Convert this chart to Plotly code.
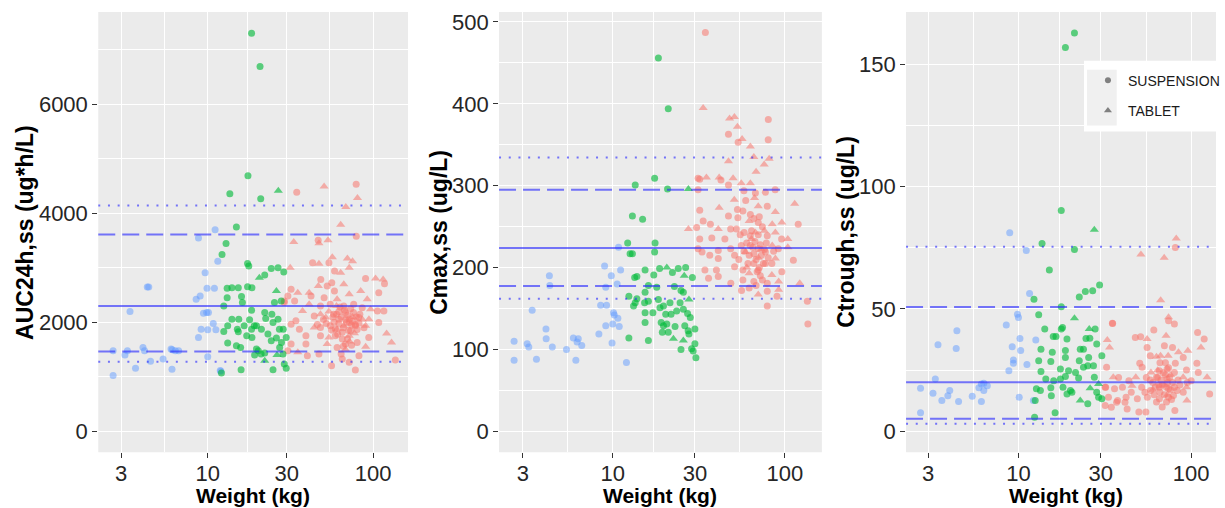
import plotly.graph_objects as go

# ---------------- data (weight kg, value) ----------------
# Panel 1: AUC24h,ss
AUC_BLUE = [(2.68,1479),(2.68,1023),(3.16,1400),(3.27,1479),(3.39,2198),(3.66,1157),(4.06,1540),(4.31,2648),(4.4,2648),(4.15,1479),
            (4.51,1285),(5.37,1327),(6.0,1510),(6.1,1498),(6.08,1138),(6.37,1479),(6.67,1479),(8.51,2423),(8.79,3549),(9.0,2484),
            (8.79,1723),(9.12,1875),(9.42,2167),(9.64,2910),(9.85,2180),(10.1,2180),(10.0,1370),(10.0,1863),(9.9,2624),(10.97,2624),
            (10.8,1979),(11.2,1863),(11.08,3701),(11.5,3123),(11.9,1114),(12.0,1102)]
AUC_GREEN_SUSP = [(18.4,7306),(20.7,6697),(17.5,4688),(13.6,4359),(20.9,4268),(14.9,3750),(12.9,3446),(12.2,3245),(17.4,3080),(17.7,3032),
                  (22.1,2867),(24.2,2989),(26.6,3001),(28.8,2922),(13.1,2624),(14.0,2636),(15.3,2636),(17.4,2654),(18.5,2636),(13.1,2453),
                  (16.0,2472),(16.2,2362),(18.4,2222),(25.3,2362),(27.8,2393),(12.5,2301),(14.0,2058),(15.4,2058),(17.9,2046),(22.1,2180),
                  (24.4,2149),(24.8,1997),(19.7,1936),(13.2,1936),(15.1,1875),(16.6,1936),(18.4,1875),(19.1,1936),(21.1,1875),(23.1,1784),
                  (27.1,1875),(28.6,1875),(29.8,1723),(12.5,1833),(15.3,1826),(17.2,1753),(18.5,1723),(24.2,1662),(13.2,1619),(14.9,1571),
                  (15.8,1540),(19.7,1510),(20.2,1479),(19.2,1400),(21.0,1418),(27.2,1540),(27.9,1632),(28.5,1418),(15.9,1132),(24.8,1132),
                  (29.0,1236),(29.8,1157),(12.1,1071),(22.1,1437),(26.0,1711),(26.6,2058),(22.4,2070)]
AUC_GREEN_TAB = [(26.7,4414),(20.5,2819),(26.0,2575),(26.2,1400),(22.1,1297)]
AUC_RED_SUSP = [(34.5,4389),(78.9,4535),(79,3580),(46.5,3507),(43.0,3093),(54,3093),(31.9,2606),(58.4,2940),(48.2,2788),(56.2,2727),
                (89.9,2806),(117,2709),(52.7,2666),(58.3,2575),(42.1,2484),(29,2393),(33.5,2393),(50.5,2453),(108,2545),(29,2362),
                (30.5,2484),(48,2301),(55,2331),(66.4,2301),(76.2,2331),(85.8,2270),(106,2210),(116,2210),(34.1,2027),(44,2118),
                (57.7,2149),(62,2058),(68,2180),(71.6,1997),(81.8,2088),(108,1997),(31.9,1966),(35.8,1875),(48,1905),(55,1936),
                (73,1845),(78,1936),(39.2,1753),(48,1753),(59,1753),(65,1692),(80,1632),(94,1723),(31.9,1601),(39.2,1601),
                (60.5,1540),(68,1601),(40,1388),(47,1418),(56,1205),(65,1327),(71.6,1266),(78,1126),(82,1388),(136,1309),
                (30.5,1479),(60,2150),(62,1980),(64,2100),(66,1900),(67,2220),(69,2000),(70,2130),(71,1850),(72,2060),
                (74,1950),(75,2020),(76,2180),(78,1960),(63,2280),(65,1820),(58,2000),(59,1880),(61,1780),(57,2100),
                (70,1700),(74,1580),(66,1560),(64,1420),(56,1860),(52,1980),(50,2050),(46,1960),(83,2150),(88,1900),
                (80,1870),(82,1990),(79,2100),(68,2050),(73,2250),(62,2200)]
AUC_RED_TAB = [(50.5,4493),(80.3,4280),(68.3,4115),(63.6,3793),(33.1,3476),(47,3450),(53.3,3507),(47,3074),(56.6,3196),(69.8,3172),
               (75,3123),(71.6,3001),(31.5,3001),(63.6,2910),(66.4,2697),(103.3,2806),(114.8,2788),(46.6,2666),(35,2545),(41,2545),
               (60.5,2423),(71.6,2514),(84,2575),(92,2423),(41,2331),(96.4,2240),(37.4,2210),(51.7,2088),(94.2,2058),(44,1905),
               (60.5,1875),(66.4,1936),(90,1936),(54,1723),(71.6,1753),(120.5,1796),(129,1632),(52.7,1601),(90,1552),(35,1449),
               (77,1800),(54,2200),(48,2150),(86,2050),(72,1650),(68,1500),(60,2300),(75,2100)]
AUC_REF = [4146, 3611, 2301, 1467, 1279]   # dotted, dashed, solid, dashed, dotted
AUC_TICKS = [0, 2000, 4000, 6000]
AUC_MINOR = [1000, 3000, 5000, 7000]

# Panel 2: Cmax,ss
CMAX_BLUE = [(2.67,110),(2.67,87),(3.18,107),(3.25,103),(3.4,148),(3.6,88),(4.09,125),(4.1,113),(4.28,190),(4.3,178),
             (4.45,103),(5.38,100),(5.9,114),(6.1,87),(6.2,109),(6.3,113),(6.6,105),(8.3,119),(8.5,154),(8.96,202),
             (9.1,176),(9.2,154),(9.1,129),(9.8,190),(10.0,131),(9.9,108),(10.1,145),(10.2,142),(10.6,180),(10.7,138),
             (10.9,128),(11.1,197),(10.8,225),(12.0,84)]
CMAX_GREEN_SUSP = [(18.4,456),(21.0,394),(17.5,309),(13.5,301),(20.8,296),(13.0,263),(14.9,259),(12.2,230),(17.6,230),(12.6,217),
                   (13.0,217),(17.5,219),(13.4,188),(13.8,189),(15.4,197),(17.3,191),(18.7,199),(22.2,194),(24.0,199),(26.5,200),
                   (29.0,188),(12.4,165),(13.8,162),(15.4,170),(16.1,178),(18.0,176),(22.8,177),(24.9,172),(25.7,170),(13.2,153),
                   (13.5,157),(15.3,157),(16.1,159),(18.4,161),(19.7,153),(21.5,157),(24.6,157),(15.4,145),(17.1,145),(18.8,151),
                   (20.3,143),(21.8,143),(23.5,147),(25.7,149),(27.2,144),(28.2,139),(15.4,133),(19.1,133),(19.7,129),(20.6,131),
                   (23.0,128),(26.2,129),(27.4,123),(30,125),(19.4,121),(21,121),(12.4,114),(16.1,111),(27.7,119),(30,107),
                   (24.9,100),(28.7,101),(30.4,90),(29.3,98)]
CMAX_GREEN_TAB = [(27.5,296),(20.6,200),(26.0,190),(27.7,161),(22.5,113),(25.7,111)]
CMAX_RED_SUSP = [(34.5,487),(80.1,381),(47,363),(53.5,353),(80,356),(31.3,309),(32,308),(42.5,307),(47,301),(31.3,295),
                 (57.8,294),(67.4,291),(77,292),(87.8,295),(59.2,282),(32,270),(53,271),(57,269),(79,275),(33.5,257),
                 (36.9,253),(47,263),(53.3,261),(70,255),(119.5,253),(30.7,249),(37.6,236),(44.8,235),(48.4,247),(52.3,247),
                 (58,243),(63,239),(79,239),(95.7,235),(32,235),(31.3,223),(41,221),(48.4,223),(55.8,227),(63,227),
                 (70,223),(91.6,223),(33,219),(36.6,215),(41,211),(51,215),(66,217),(77,219),(112,209),(34.3,197),
                 (40,197),(51,201),(57,197),(70,197),(96,195),(36,187),(41,189),(57,185),(66,183),(79,181),
                 (48.5,181),(62,175),(56,172),(79,171),(135,159),(79,153),(136,131),(90,165),
                 (60,230),(62,215),(64,245),(66,205),(67,232),(68,210),(70,240),(71,200),(72,228),(73,215),
                 (74,250),(75,205),(76,222),(65,225),(69,195),(61,205),(58,220),(72,190),(74,185),(66,260),
                 (63,265),(78,230),(80,212),(84,205),(86,220),(55,240),(54,210),(68,178),(71,262),(77,205)]
CMAX_RED_TAB = [(33.5,395),(47.7,382),(50.9,384),(53,372),(56.4,357),(63,348),(66,335),(81,333),(75.8,326),(47,330),
                (68,317),(35,310),(41.5,310),(50,309),(55.8,303),(63,303),(66.6,285),(50.8,283),(41.5,273),(70,275),
                (88,268),(114,278),(62,257),(84.4,253),(96,255),(27.5,247),(41,247),(67.4,243),(88,243),(104,235),
                (84.4,227),(104,225),(59,219),(88,211),(62,193),(84,191),(92,183),(122,181),(92,173),(70,167),
                (64,235),(70,212),(76,245),(60,200),(73,222)]
CMAX_REF = [334.5, 295, 224, 177.6, 162]
CMAX_TICKS = [0, 100, 200, 300, 400, 500]
CMAX_MINOR = [50, 150, 250, 350, 450]

# Panel 3: Ctrough,ss
CTR_BLUE = [(2.71,17.6),(2.71,7.6),(3.2,15.6),(3.3,21.4),(3.42,35.4),(3.6,12.6),(3.9,14.6),(4.0,16.7),(4.36,33.9),(4.4,41.1),
            (4.5,12.2),(5.4,14.4),(5.9,17.8),(6.1,19.4),(6.1,12.2),(6.3,16.7),(6.6,18.7),(6.3,19.7),(8.5,43.5),(8.9,81.1),
            (9.2,34.6),(9.35,29.2),(9.35,27.8),(8.8,24.8),(9.87,47.9),(10.0,46.5),(10.1,14.0),(10.2,38.0),(10.3,33.0),(11.1,73.9),
            (11.2,27.3),(11.6,56.3),(12.2,12.6),(12.6,37.3)]
CTR_GREEN_SUSP = [(21.1,162.7),(18.7,156.8),(17.7,90.2),(13.7,76.7),(21.1,74.3),(15.1,65.9),(29.5,59.8),(26.9,57.4),(24.4,57.1),(22.5,54.9),
                  (12.3,54.0),(17.7,50.9),(13.1,47.6),(14.2,41.8),(17.7,41.8),(18.0,42.4),(15.9,38.8),(16.5,38.8),(19.1,37.7),(27.8,41.8),
                  (24.6,38),(25.9,38.1),(28.4,35.7),(13.5,33.6),(15.7,32.3),(18.7,33.0),(22.8,33.6),(23.8,33.6),(13.1,28.9),(15.4,28.6),
                  (18.7,30.2),(22.5,28.9),(25.5,30.2),(30.4,30.9),(13.5,24.5),(17.5,25.5),(19.5,24.8),(21.4,24.1),(23.8,26.2),(25.2,26.8),
                  (27.2,26.8),(14.4,21.4),(16.0,20.7),(18.7,22.4),(22.3,21.8),(27.5,22.1),(12.7,17.4),(15.4,17.8),(18.1,18.0),(20.0,16.7),
                  (12.5,12.6),(13.4,16.7),(15.5,14.6),(19.1,15.3),(25.2,11.3),(28.4,16.0),(29.1,14.0),(16.3,7.6),(12.4,5.8),(30.4,13.3),
                  (20.4,16.0),(17.5,21.4)]
CTR_GREEN_TAB = [(27.5,82.4),(21.1,46.2),(25.7,41.8),(29.1,19.4),(26.0,17.6),(22.8,12.6)]
CTR_RED_SUSP = [(81,75.1),(35,44.2),(74,45.2),(80,43.9),(60.8,41.4),(47.5,38.4),(51,38.7),(109,40.4),(119,37.7),(55.6,34.3),
                (70,35.0),(78,34.3),(58,30.9),(90,30.2),(108,27.8),(50.4,27.8),(81,27.8),(32.4,26.2),(52,26.2),(65.5,24.8),
                (72.6,25.5),(80,24.1),(94,25.1),(110,24.1),(43.6,20.7),(63,22.1),(72.6,21.4),(100,20.7),(31.8,18.0),(36,17.4),
                (51.7,18.0),(58.2,16.7),(65.5,18.0),(74,17.4),(83,16.7),(128,15.3),(33.2,14.0),(37.5,12.6),(48.8,13.3),(55.8,14.0),
                (65.5,13.3),(79,14.7),(34.5,9.9),(42.6,9.2),(49.8,7.9),(54.7,7.9),(80.5,8.5),(35.1,44.1),(32,18.0),(37,11.9),
                (31.8,10.6),(41.4,11.9),
                (60,20),(62,18),(64,22),(66,16),(67,21),(68,19),(70,15),(71,23),(72,18),(73,20),
                (74,14),(75,22),(76,17),(65,19),(69,24),(61,15),(58,21),(72,12),(74,26),(66,28),
                (63,12),(78,20),(80,18),(84,21),(86,19),(55,22),(54,16),(68,10),(71,28),(77,13),
                (45,16),(40,18),(38,22),(42,14),(90,16),(95,20)]
CTR_RED_TAB = [(82,78.8),(51.2,72.3),(69.8,70.9),(66.6,53.6),(74,46.6),(55.6,37.7),(71.6,39.1),(32.7,37.3),(33.7,34.3),(114,34.3),
               (63,30.5),(66.5,30.9),(73.6,30.9),(84.5,32.3),(95.7,32.9),(58.5,24.1),(123.7,22.1),(35.4,22.1),(47.8,22.1),(90,22.1),
               (45.5,18.7),(94,18.0),(94.5,12.6),
               (64,25),(70,19),(76,23),(60,17),(73,15)]
CTR_REF = [75.4, 50.85, 20.06, 5.2, 3.1]
CTR_TICKS = [0, 50, 100, 150]
CTR_MINOR = [25, 75, 125]

WEIGHT_TICKS = [3, 10, 30, 100]
WEIGHT_MINOR = [5.48, 17.3, 54.8]
FORMULATIONS = ["SUSPENSION", "TABLET"]

# ---------------- styling ----------------
FONT = "Liberation Sans, Arial, sans-serif"
COL_RED = "rgba(248,118,109,0.55)"
COL_GREEN = "rgba(0,186,56,0.62)"
COL_BLUE = "rgba(97,156,255,0.5)"
REF_COLOR = "rgba(40,40,255,0.62)"
REF_DASH = ["2px,7.7px", "17px,7px", "solid", "17px,7px", "2px,7.7px"]

panels = [
    dict(title="AUC24h,ss (ug*h/L)", yrange=[-384, 7696], xrange=[0.3383, 2.210], xdom=[0.0808, 0.3355],
         yticks=AUC_TICKS, yminor=AUC_MINOR, ref=AUC_REF,
         blue=AUC_BLUE, gs=AUC_GREEN_SUSP, gt=AUC_GREEN_TAB, rs=AUC_RED_SUSP, rt=AUC_RED_TAB,
         ytitle_x=25),
    dict(title="Cmax,ss (ug/L)", yrange=[-25.5, 512.2], xrange=[0.339, 2.215], xdom=[0.4104, 0.6759],
         yticks=CMAX_TICKS, yminor=CMAX_MINOR, ref=CMAX_REF,
         blue=CMAX_BLUE, gs=CMAX_GREEN_SUSP, gt=CMAX_GREEN_TAB, rs=CMAX_RED_SUSP, rt=CMAX_RED_TAB,
         ytitle_x=442),
    dict(title="Ctrough,ss (ug/L)", yrange=[-8.5, 171.3], xrange=[0.349, 2.144], xdom=[0.7451, 1.0],
         yticks=CTR_TICKS, yminor=CTR_MINOR, ref=CTR_REF,
         blue=CTR_BLUE, gs=CTR_GREEN_SUSP, gt=CTR_GREEN_TAB, rs=CTR_RED_SUSP, rt=CTR_RED_TAB,
         ytitle_x=852),
]

W, H = 1225, 508
YDOM = [0.1102, 0.9803]

fig = go.Figure()
shapes = []
annotations = []


def pts(trace_pairs, color, symbol, size, xa, ya):
    return go.Scatter(
        x=[p[0] for p in trace_pairs], y=[p[1] for p in trace_pairs],
        mode="markers", xaxis=xa, yaxis=ya, showlegend=False, hoverinfo="x+y",
        marker=dict(color=color, symbol=symbol, size=size, line=dict(width=0)))


for i, p in enumerate(panels, start=1):
    xa = "x" if i == 1 else f"x{i}"
    ya = "y" if i == 1 else f"y{i}"
    fig.add_trace(pts(p["rs"], COL_RED, "circle", 7, xa, ya))
    fig.add_trace(pts(p["rt"], COL_RED, "triangle-up", 8, xa, ya))
    fig.add_trace(pts(p["blue"], COL_BLUE, "circle", 7, xa, ya))
    fig.add_trace(pts(p["gs"], COL_GREEN, "circle", 7, xa, ya))
    fig.add_trace(pts(p["gt"], COL_GREEN, "triangle-up", 8, xa, ya))

    for val, dash in zip(p["ref"], REF_DASH):
        shapes.append(dict(type="line", xref=f"{xa} domain", yref=ya, x0=0, x1=1, y0=val, y1=val,
                           line=dict(color=REF_COLOR, width=2, dash=dash), layer="above"))

    axis_common = dict(showline=False, zeroline=False, ticks="outside", ticklen=5, tickwidth=1,
                       tickcolor="#333333", showgrid=True, gridcolor="white", gridwidth=1.4,
                       tickfont=dict(family=FONT, size=22, color="#262626"))
    fig.layout[f"xaxis{i if i > 1 else ''}"] = dict(
        type="log", range=p["xrange"], domain=p["xdom"], anchor=ya,
        tickmode="array", tickvals=WEIGHT_TICKS, ticktext=[str(t) for t in WEIGHT_TICKS],
        ticklabelstandoff=-4,
        minor=dict(tickmode="array", tickvals=WEIGHT_MINOR, showgrid=True, gridcolor="white",
                   gridwidth=0.8, ticks=""),
        **axis_common)
    fig.layout[f"yaxis{i if i > 1 else ''}"] = dict(
        range=p["yrange"], domain=YDOM, anchor=xa,
        tickmode="array", tickvals=p["yticks"], ticktext=[str(t) for t in p["yticks"]],
        minor=dict(tickmode="array", tickvals=p["yminor"], showgrid=True, gridcolor="white",
                   gridwidth=0.8, ticks=""),
        **axis_common)

    # axis titles
    ymid = (YDOM[0] + YDOM[1]) / 2
    annotations.append(dict(text=f"<b>{p['title']}</b>", xref="paper", yref="paper",
                            x=p["ytitle_x"] / W, y=ymid, textangle=-90, showarrow=False,
                            xanchor="center", yanchor="middle",
                            font=dict(family=FONT, size=23, color="black")))
    xmid = (p["xdom"][0] + p["xdom"][1]) / 2
    if i == 3:
        xmid = 1074 / W
    annotations.append(dict(text="<b>Weight (kg)</b>", xref="paper", yref="paper",
                            x=xmid, y=0.0, showarrow=False,
                            xanchor="center", yanchor="bottom", borderpad=0,
                            font=dict(family=FONT, size=21, color="black")))

# legend (formulation shapes)
fig.add_trace(go.Scatter(x=[None], y=[None], mode="markers", name=FORMULATIONS[0], legendgroup="s",
                         xaxis="x3", yaxis="y3",
                         marker=dict(color="#808080", symbol="circle", size=6)))
fig.add_trace(go.Scatter(x=[None], y=[None], mode="markers", name=FORMULATIONS[1], legendgroup="t",
                         xaxis="x3", yaxis="y3",
                         marker=dict(color="#808080", symbol="triangle-up", size=7)))

# legend background box + key background
shapes.append(dict(type="rect", xref="paper", yref="paper", x0=1092 / W, x1=1.0,
                   y0=1 - 130 / H, y1=1 - 59 / H, fillcolor="white", line=dict(width=0), layer="above"))
shapes.append(dict(type="rect", xref="paper", yref="paper", x0=1095 / W, x1=1125 / W,
                   y0=1 - 124 / H, y1=1 - 68 / H, fillcolor="#F0F0F0", line=dict(width=0), layer="above"))

fig.update_layout(
    width=W, height=H, margin=dict(l=0, r=0, t=0, b=0),
    paper_bgcolor="white", plot_bgcolor="#EBEBEB",
    font=dict(family=FONT),
    shapes=shapes, annotations=annotations,
    showlegend=True,
    legend=dict(x=1096 / W, y=1 - 63 / H, xanchor="left", yanchor="top",
                bgcolor="rgba(0,0,0,0)", borderwidth=0, tracegroupgap=9,
                font=dict(family=FONT, size=14, color="#1a1a1a")),
)

fig.write_html("out.html")
